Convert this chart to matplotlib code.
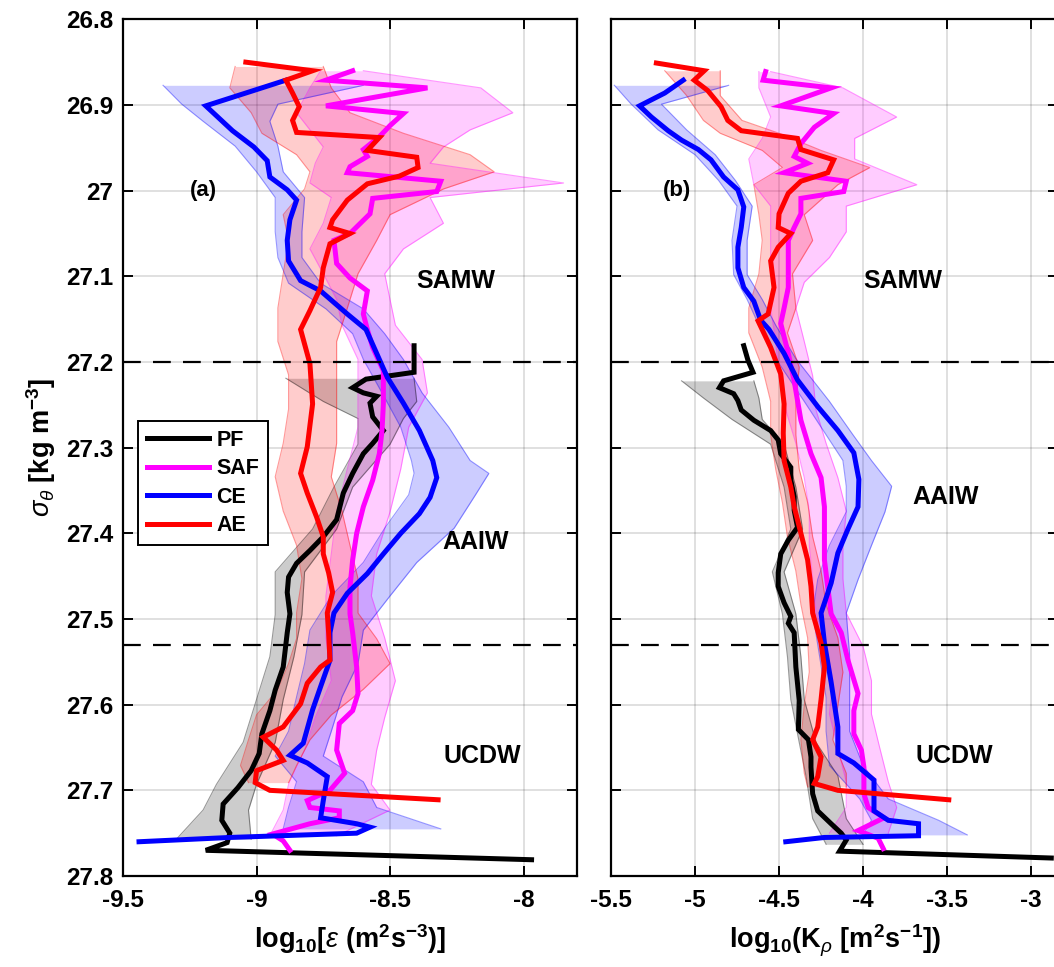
import matplotlib
matplotlib.use("Agg")
import matplotlib.pyplot as plt

plt.rcParams['font.family'] = ['Liberation Sans', 'DejaVu Sans']
plt.rcParams['font.weight'] = 'bold'
plt.rcParams['axes.labelweight'] = 'bold'
plt.rcParams['axes.unicode_minus'] = False
plt.rcParams['mathtext.fontset'] = 'custom'
plt.rcParams['mathtext.rm'] = 'Liberation Sans:bold'
plt.rcParams['mathtext.it'] = 'Liberation Sans:style=italic:weight=normal'
plt.rcParams['mathtext.bf'] = 'Liberation Sans:bold'

#___________DATA (a): log10 epsilon_______________
pf_eps_sig = [27.181, 27.212, 27.220, 27.230, 27.236, 27.240, 27.248, 27.264, 27.280, 27.295,
              27.307, 27.330, 27.353, 27.384, 27.404, 27.420, 27.435, 27.451, 27.469, 27.494,
              27.516, 27.556, 27.583, 27.607, 27.634, 27.657, 27.677, 27.697, 27.716, 27.735,
              27.750, 27.761, 27.770, 27.781]
pf_eps = [-8.41, -8.41, -8.59, -8.64, -8.60, -8.55, -8.575, -8.565, -8.525, -8.565,
          -8.60, -8.64, -8.675, -8.70, -8.75, -8.80, -8.85, -8.88, -8.885, -8.875,
          -8.885, -8.90, -8.93, -8.95, -8.98, -8.99, -9.02, -9.07, -9.125, -9.13,
          -9.10, -9.11, -9.19, -7.97]
pf_eps_bsig = [27.219, 27.246, 27.266, 27.296, 27.346, 27.395, 27.445, 27.495, 27.544, 27.594,
               27.644, 27.693, 27.723, 27.757]
pf_eps_lo = [-8.89, -8.75, -8.62, -8.62, -8.71, -8.79, -8.93, -8.93, -8.95, -9.00,
             -9.05, -9.15, -9.20, -9.30]
pf_eps_hi = [-8.41, -8.40, -8.45, -8.50, -8.64, -8.70, -8.82, -8.83, -8.86, -8.90,
             -8.93, -9.00, -9.03, -9.02]

saf_eps_sig = [26.860, 26.871, 26.880, 26.901, 26.910, 26.924, 26.937, 26.952, 26.960, 26.972,
               26.979, 26.989, 27.001, 27.009, 27.027, 27.050, 27.058, 27.085, 27.102, 27.117,
               27.144, 27.162, 27.183, 27.210, 27.249, 27.280, 27.307, 27.338, 27.369, 27.400,
               27.431, 27.463, 27.494, 27.516, 27.556, 27.587, 27.607, 27.622, 27.653, 27.680,
               27.700, 27.712, 27.720, 27.724, 27.732, 27.739, 27.751, 27.759, 27.770]
saf_eps = [-8.64, -8.74, -8.36, -8.74, -8.45, -8.50, -8.54, -8.60, -8.585, -8.65,
           -8.66, -8.31, -8.325, -8.565, -8.575, -8.65, -8.71, -8.70, -8.65, -8.585,
           -8.60, -8.585, -8.565, -8.525, -8.525, -8.53, -8.54, -8.565, -8.60, -8.625,
           -8.64, -8.65, -8.65, -8.64, -8.625, -8.62, -8.64, -8.69, -8.70, -8.67,
           -8.725, -8.81, -8.80, -8.69, -8.69, -8.80, -8.94, -8.90, -8.875]
saf_eps_bsig = [26.860, 26.880, 26.909, 26.929, 26.949, 26.968, 26.991, 27.008, 27.038, 27.068,
                27.097, 27.127, 27.157, 27.197, 27.236, 27.276, 27.325, 27.375, 27.424, 27.473,
                27.522, 27.572, 27.615, 27.653, 27.693, 27.723, 27.753]
saf_eps_lo = [-8.76, -8.80, -8.85, -8.80, -8.75, -8.78, -8.80, -8.72, -8.75, -8.80,
              -8.75, -8.70, -8.68, -8.62, -8.62, -8.62, -8.66, -8.70, -8.72, -8.74,
              -8.74, -8.72, -8.78, -8.82, -8.88, -8.90, -8.95]
saf_eps_hi = [-8.60, -8.16, -8.04, -8.20, -8.30, -8.35, -7.85, -8.35, -8.30, -8.45,
              -8.52, -8.50, -8.48, -8.38, -8.36, -8.43, -8.46, -8.50, -8.55, -8.57,
              -8.52, -8.48, -8.52, -8.55, -8.57, -8.50, -8.70]

ce_eps_sig = [26.871, 26.901, 26.930, 26.949, 26.965, 26.984, 26.999, 27.011, 27.034, 27.058,
              27.082, 27.105, 27.117, 27.144, 27.162, 27.183, 27.218, 27.248, 27.280, 27.315,
              27.335, 27.358, 27.377, 27.400, 27.424, 27.447, 27.470, 27.493, 27.516, 27.548,
              27.579, 27.606, 27.645, 27.659, 27.668, 27.684, 27.712, 27.732, 27.739, 27.743,
              27.750, 27.755, 27.760]
ce_eps = [-8.89, -9.19, -9.09, -9.01, -8.96, -8.95, -8.885, -8.85, -8.875, -8.885,
          -8.88, -8.835, -8.76, -8.66, -8.59, -8.56, -8.51, -8.45, -8.39, -8.34,
          -8.325, -8.35, -8.39, -8.46, -8.525, -8.585, -8.66, -8.71, -8.725, -8.725,
          -8.76, -8.79, -8.825, -8.875, -8.81, -8.735, -8.75, -8.76, -8.625, -8.575,
          -8.625, -9.10, -9.44]
ce_eps_bsig = [26.877, 26.899, 26.919, 26.948, 26.978, 27.008, 27.048, 27.078, 27.108, 27.138,
               27.167, 27.197, 27.236, 27.276, 27.315, 27.330, 27.355, 27.394, 27.434, 27.473,
               27.513, 27.552, 27.591, 27.631, 27.660, 27.690, 27.720, 27.745]
ce_eps_lo = [-9.35, -9.28, -9.20, -9.08, -9.00, -8.93, -8.93, -8.92, -8.88, -8.74,
             -8.64, -8.60, -8.53, -8.46, -8.42, -8.41, -8.43, -8.52, -8.60, -8.72,
             -8.80, -8.82, -8.85, -8.88, -8.93, -8.85, -8.88, -8.90]
ce_eps_hi = [-8.60, -8.92, -8.95, -8.92, -8.90, -8.82, -8.83, -8.83, -8.76, -8.60,
             -8.52, -8.45, -8.38, -8.28, -8.20, -8.13, -8.18, -8.26, -8.40, -8.50,
             -8.60, -8.62, -8.68, -8.72, -8.75, -8.60, -8.55, -8.31]

ae_eps_sig = [26.850, 26.860, 26.871, 26.886, 26.902, 26.918, 26.932, 26.938, 26.953, 26.961,
              26.973, 26.983, 26.992, 27.011, 27.034, 27.043, 27.050, 27.062, 27.090, 27.113,
              27.140, 27.162, 27.202, 27.249, 27.299, 27.330, 27.353, 27.381, 27.404, 27.424,
              27.446, 27.469, 27.493, 27.516, 27.548, 27.556, 27.575, 27.599, 27.626, 27.638,
              27.653, 27.665, 27.677, 27.691, 27.700, 27.711]
ae_eps = [-9.04, -8.79, -8.89, -8.865, -8.84, -8.865, -8.85, -8.54, -8.585, -8.40,
          -8.395, -8.465, -8.585, -8.66, -8.715, -8.725, -8.65, -8.725, -8.75, -8.76,
          -8.80, -8.835, -8.80, -8.79, -8.81, -8.835, -8.81, -8.775, -8.75, -8.75,
          -8.73, -8.715, -8.735, -8.73, -8.725, -8.76, -8.81, -8.835, -8.90, -8.975,
          -8.925, -8.90, -9.00, -9.005, -8.95, -8.32]
ae_eps_bsig = [26.855, 26.880, 26.909, 26.933, 26.958, 26.978, 26.998, 27.028, 27.058, 27.097,
               27.137, 27.176, 27.215, 27.255, 27.295, 27.334, 27.374, 27.414, 27.453, 27.493,
               27.523, 27.552, 27.582, 27.612, 27.641, 27.671, 27.691]
ae_eps_lo = [-9.08, -9.10, -9.02, -8.98, -8.85, -8.80, -8.82, -8.90, -8.88, -8.90,
             -8.92, -8.92, -8.88, -8.88, -8.90, -8.93, -8.90, -8.85, -8.83, -8.85,
             -8.85, -8.88, -8.92, -9.00, -9.03, -9.06, -9.03]
ae_eps_hi = [-8.75, -8.72, -8.65, -8.45, -8.20, -8.11, -8.30, -8.50, -8.55, -8.62,
             -8.66, -8.70, -8.70, -8.70, -8.70, -8.72, -8.68, -8.65, -8.62, -8.62,
             -8.55, -8.50, -8.60, -8.72, -8.80, -8.85, -8.88]

#___________DATA (b): log10 K_rho_______________
pf_k_sig = [27.181, 27.198, 27.212, 27.222, 27.230, 27.237, 27.245, 27.256, 27.268, 27.280,
            27.291, 27.307, 27.323, 27.338, 27.357, 27.373, 27.393, 27.408, 27.424, 27.446,
            27.462, 27.481, 27.497, 27.505, 27.516, 27.556, 27.595, 27.629, 27.641, 27.661,
            27.673, 27.704, 27.724, 27.739, 27.750, 27.758, 27.771, 27.779]
pf_k = [-4.71, -4.685, -4.655, -4.83, -4.855, -4.77, -4.745, -4.725, -4.65, -4.55,
        -4.505, -4.49, -4.43, -4.43, -4.41, -4.41, -4.39, -4.445, -4.49, -4.505,
        -4.505, -4.47, -4.43, -4.445, -4.41, -4.40, -4.38, -4.385, -4.325, -4.31,
        -4.31, -4.30, -4.27, -4.19, -4.13, -4.10, -4.14, -2.88]
pf_k_bsig = [27.222, 27.242, 27.267, 27.296, 27.346, 27.395, 27.445, 27.494, 27.544, 27.594,
             27.644, 27.683, 27.733, 27.763]
pf_k_lo = [-5.08, -4.95, -4.78, -4.55, -4.47, -4.43, -4.54, -4.48, -4.45, -4.43,
           -4.38, -4.34, -4.30, -4.22]
pf_k_hi = [-4.65, -4.62, -4.60, -4.47, -4.40, -4.36, -4.47, -4.40, -4.37, -4.35,
           -4.28, -4.15, -4.10, -4.00]

saf_k_sig = [26.861, 26.871, 26.880, 26.901, 26.910, 26.926, 26.945, 26.960, 26.968, 26.979,
             26.989, 27.001, 27.009, 27.027, 27.043, 27.058, 27.085, 27.113, 27.137, 27.155,
             27.190, 27.222, 27.268, 27.307, 27.335, 27.369, 27.400, 27.431, 27.463, 27.494,
             27.516, 27.548, 27.587, 27.607, 27.634, 27.653, 27.673, 27.704, 27.720, 27.732,
             27.747, 27.756, 27.768]
saf_k = [-4.58, -4.595, -4.19, -4.49, -4.175, -4.29, -4.37, -4.41, -4.33, -4.47,
         -4.10, -4.115, -4.37, -4.37, -4.41, -4.445, -4.445, -4.445, -4.47, -4.49,
         -4.445, -4.41, -4.37, -4.31, -4.25, -4.23, -4.23, -4.23, -4.21, -4.19,
         -4.13, -4.09, -4.03, -4.055, -4.055, -4.01, -3.995, -3.995, -3.97, -3.875,
         -4.03, -3.91, -3.88]
saf_k_bsig = [26.861, 26.880, 26.914, 26.939, 26.963, 26.993, 27.018, 27.048, 27.078, 27.107,
              27.137, 27.176, 27.216, 27.256, 27.295, 27.335, 27.374, 27.414, 27.453, 27.493,
              27.532, 27.572, 27.611, 27.651, 27.690, 27.720, 27.750]
saf_k_lo = [-4.62, -4.62, -4.55, -4.60, -4.68, -4.65, -4.55, -4.55, -4.55, -4.52,
            -4.55, -4.52, -4.50, -4.46, -4.40, -4.35, -4.32, -4.32, -4.30, -4.28,
            -4.22, -4.18, -4.20, -4.15, -4.10, -4.10, -4.20]
saf_k_hi = [-4.55, -4.12, -3.80, -4.05, -4.05, -3.68, -4.10, -4.10, -4.20, -4.35,
            -4.40, -4.35, -4.30, -4.28, -4.22, -4.15, -4.10, -4.12, -4.12, -4.10,
            -4.00, -3.95, -3.95, -3.90, -3.85, -3.80, -3.85]

ce_k_sig = [26.871, 26.886, 26.901, 26.914, 26.930, 26.941, 26.952, 26.964, 26.984, 26.999,
            27.019, 27.043, 27.066, 27.090, 27.113, 27.129, 27.151, 27.162, 27.190, 27.221,
            27.252, 27.280, 27.306, 27.337, 27.369, 27.395, 27.423, 27.458, 27.493, 27.528,
            27.574, 27.626, 27.657, 27.668, 27.688, 27.724, 27.735, 27.739, 27.753, 27.755,
            27.760]
ce_k = [-5.07, -5.18, -5.33, -5.26, -5.16, -5.08, -4.98, -4.905, -4.83, -4.745,
        -4.71, -4.725, -4.745, -4.745, -4.71, -4.65, -4.61, -4.56, -4.47, -4.39,
        -4.27, -4.15, -4.055, -4.025, -4.03, -4.09, -4.15, -4.19, -4.25, -4.23,
        -4.19, -4.15, -4.15, -4.055, -3.935, -3.935, -3.85, -3.67, -3.67, -4.23,
        -4.46]
ce_k_bsig = [26.877, 26.899, 26.929, 26.958, 26.988, 27.018, 27.058, 27.098, 27.127, 27.157,
             27.196, 27.246, 27.285, 27.315, 27.345, 27.375, 27.414, 27.454, 27.493, 27.542,
             27.592, 27.631, 27.671, 27.710, 27.735, 27.752]
ce_k_lo = [-5.48, -5.38, -5.22, -5.00, -4.86, -4.75, -4.78, -4.77, -4.69, -4.62,
           -4.52, -4.35, -4.22, -4.12, -4.10, -4.10, -4.20, -4.27, -4.30, -4.26,
           -4.22, -4.22, -4.20, -4.02, -3.95, -4.00]
ce_k_hi = [-4.80, -5.20, -5.05, -4.88, -4.76, -4.66, -4.69, -4.69, -4.60, -4.52,
           -4.40, -4.20, -4.06, -3.95, -3.83, -3.87, -3.95, -4.03, -4.10, -4.08,
           -4.08, -4.08, -4.00, -3.85, -3.55, -3.38]

ae_k_sig = [26.851, 26.860, 26.871, 26.883, 26.902, 26.918, 26.930, 26.939, 26.952, 26.964,
            26.979, 26.989, 27.003, 27.027, 27.043, 27.050, 27.066, 27.082, 27.113, 27.144,
            27.152, 27.183, 27.214, 27.249, 27.283, 27.315, 27.346, 27.369, 27.400, 27.431,
            27.462, 27.493, 27.528, 27.556, 27.594, 27.626, 27.641, 27.661, 27.684, 27.692,
            27.700, 27.711]
ae_k = [-5.23, -4.945, -5.005, -4.925, -4.845, -4.805, -4.725, -4.39, -4.37, -4.175,
        -4.21, -4.37, -4.445, -4.50, -4.505, -4.43, -4.505, -4.55, -4.53, -4.565,
        -4.625, -4.55, -4.49, -4.47, -4.475, -4.47, -4.43, -4.41, -4.37, -4.33,
        -4.31, -4.30, -4.25, -4.23, -4.25, -4.27, -4.30, -4.25, -4.27, -4.29,
        -4.15, -3.49]
ae_k_bsig = [26.860, 26.889, 26.918, 26.933, 26.953, 26.973, 26.993, 27.028, 27.058, 27.097,
             27.137, 27.166, 27.206, 27.246, 27.285, 27.325, 27.364, 27.404, 27.444, 27.483,
             27.522, 27.562, 27.601, 27.641, 27.680, 27.696]
ae_k_lo = [-5.18, -5.05, -4.95, -4.85, -4.60, -4.48, -4.65, -4.62, -4.60, -4.62,
           -4.68, -4.68, -4.60, -4.55, -4.55, -4.52, -4.48, -4.45, -4.40, -4.37,
           -4.33, -4.32, -4.35, -4.37, -4.35, -4.33]
ae_k_hi = [-4.85, -4.85, -4.72, -4.50, -4.25, -3.96, -4.15, -4.35, -4.30, -4.42,
           -4.40, -4.45, -4.38, -4.40, -4.40, -4.38, -4.33, -4.30, -4.25, -4.22,
           -4.15, -4.12, -4.15, -4.18, -4.10, -4.10]

names = ["PF", "SAF", "CE", "AE"]
colors = ["#000000", "#ff00ff", "#0000ff", "#ff0000"]
water_masses = ["SAMW", "AAIW", "UCDW"]
mass_bounds = [27.2, 27.53]
yticks = [26.8, 26.9, 27.0, 27.1, 27.2, 27.3, 27.4, 27.5, 27.6, 27.7, 27.8]
ytick_labels = ["26.8", "26.9", "27", "27.1", "27.2", "27.3", "27.4", "27.5", "27.6", "27.7", "27.8"]

eps_series = [
    (pf_eps_sig, pf_eps, pf_eps_bsig, pf_eps_lo, pf_eps_hi),
    (saf_eps_sig, saf_eps, saf_eps_bsig, saf_eps_lo, saf_eps_hi),
    (ce_eps_sig, ce_eps, ce_eps_bsig, ce_eps_lo, ce_eps_hi),
    (ae_eps_sig, ae_eps, ae_eps_bsig, ae_eps_lo, ae_eps_hi),
]
k_series = [
    (pf_k_sig, pf_k, pf_k_bsig, pf_k_lo, pf_k_hi),
    (saf_k_sig, saf_k, saf_k_bsig, saf_k_lo, saf_k_hi),
    (ce_k_sig, ce_k, ce_k_bsig, ce_k_lo, ce_k_hi),
    (ae_k_sig, ae_k, ae_k_bsig, ae_k_lo, ae_k_hi),
]


def draw_panel(ax, series, xlim, xticks, xtick_labels):
    # shaded spread first, then the mean profiles on top
    for (sig, val, bsig, lo, hi), c in zip(series, colors):
        ax.fill_betweenx(bsig, lo, hi, color=c, alpha=0.2, lw=0)
        ax.plot(lo, bsig, color=c, lw=0.8, alpha=0.4)
        ax.plot(hi, bsig, color=c, lw=0.8, alpha=0.4)
    lines = []
    for (sig, val, bsig, lo, hi), c, n in zip(series, colors, names):
        l, = ax.plot(val, sig, color=c, lw=3.6, label=n, solid_joinstyle='miter')
        lines.append(l)
    for yb in mass_bounds:
        ax.axhline(yb, color='k', lw=1.6, ls=(0, (8, 5.5)))
    ax.set_xlim(xlim)
    ax.set_ylim(27.8, 26.8)
    ax.set_xticks(xticks)
    ax.set_xticklabels(xtick_labels)
    ax.set_yticks(yticks)
    ax.grid(True, color='#262626', alpha=0.17, lw=1.2)
    ax.set_axisbelow(True)
    ax.tick_params(direction='in', length=7, width=1.4, top=True, right=True,
                   labelsize=17.5)
    ax.tick_params(axis='x', pad=9)
    ax.tick_params(axis='y', pad=7)
    for s in ax.spines.values():
        s.set_linewidth(1.6)
    return lines


fig = plt.figure(figsize=(10.54, 9.67), dpi=100)
ax1 = fig.add_axes([0.1167, 0.0941, 0.4307, 0.8859])
ax2 = fig.add_axes([0.5797, 0.0941, 0.4241, 0.8859])

lines = draw_panel(ax1, eps_series, (-9.5, -7.8), [-9.5, -9, -8.5, -8],
                   ["-9.5", "-9", "-8.5", "-8"])
ax1.set_yticklabels(ytick_labels)
ax1.set_ylabel(r"$\sigma_\theta$ [kg m$^{-3}$]", fontsize=19.5, labelpad=6)
ax1.set_xlabel(r"log$_{10}$[$\epsilon$ (m$^2$s$^{-3}$)]", fontsize=19.5, labelpad=8)
ax1.text(-9.2, 27.0, "(a)", fontsize=16, ha='center', va='center')
ax1.text(-8.255, 27.105, water_masses[0], fontsize=18, ha='center', va='center')
ax1.text(-8.18, 27.41, water_masses[1], fontsize=18, ha='center', va='center')
ax1.text(-8.155, 27.66, water_masses[2], fontsize=18, ha='center', va='center')
leg = ax1.legend(handles=lines, loc='upper left', bbox_to_anchor=(0.033, 0.531),
                 borderaxespad=0, fontsize=15.5, handlelength=2.9, handletextpad=0.35,
                 labelspacing=0.35, borderpad=0.4, fancybox=False, framealpha=1,
                 edgecolor='k')
leg.get_frame().set_linewidth(1.4)
for h in leg.get_lines():
    h.set_linewidth(3.6)

draw_panel(ax2, k_series, (-5.5, -2.84), [-5.5, -5, -4.5, -4, -3.5, -3],
           ["-5.5", "-5", "-4.5", "-4", "-3.5", "-3"])
ax2.set_yticklabels([])
ax2.set_xlabel(r"log$_{10}$(K$_\rho$ [m$^2$s$^{-1}$])", fontsize=19.5, labelpad=8)
ax2.text(-5.107, 27.0, "(b)", fontsize=16, ha='center', va='center')
ax2.text(-3.764, 27.105, water_masses[0], fontsize=18, ha='center', va='center')
ax2.text(-3.506, 27.357, water_masses[1], fontsize=18, ha='center', va='center')
ax2.text(-3.46, 27.66, water_masses[2], fontsize=18, ha='center', va='center')

fig.savefig("out.png", dpi=100)
